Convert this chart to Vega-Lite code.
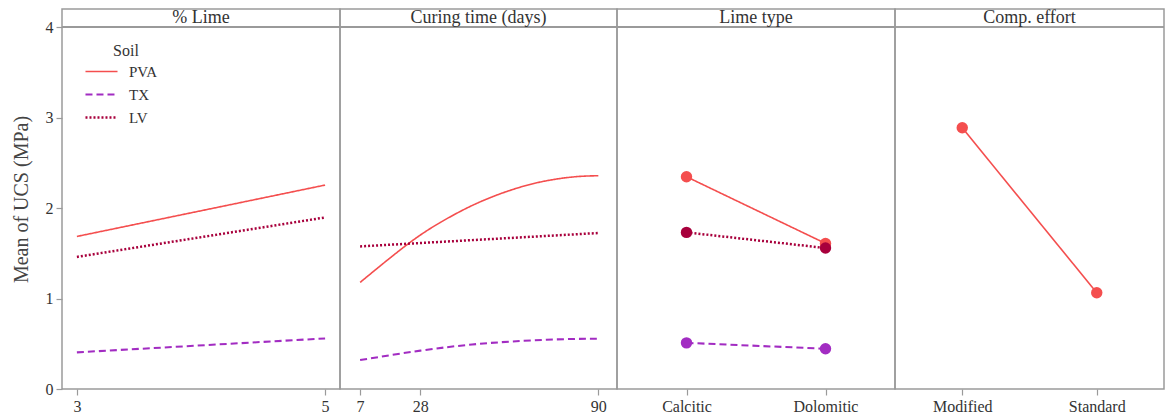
{
  "$schema": "https://vega.github.io/schema/vega-lite/v6.json",
  "padding": {"left": 10, "top": 8, "right": 0, "bottom": 0},
  "spacing": 0,
  "bounds": "flush",
  "datasets": {
    "lime": [
      {"pct": 3, "soil": "PVA", "ucs": 1.686},
      {"pct": 5, "soil": "PVA", "ucs": 2.254},
      {"pct": 3, "soil": "TX", "ucs": 0.405},
      {"pct": 5, "soil": "TX", "ucs": 0.559},
      {"pct": 3, "soil": "LV", "ucs": 1.46},
      {"pct": 5, "soil": "LV", "ucs": 1.896}
    ],
    "curing": [
      {"days": 7, "soil": "PVA", "ucs": 1.178},
      {"days": 23.3, "soil": "PVA", "ucs": 1.594},
      {"days": 34.9, "soil": "PVA", "ucs": 1.84},
      {"days": 46.5, "soil": "PVA", "ucs": 2.035},
      {"days": 58.1, "soil": "PVA", "ucs": 2.183},
      {"days": 69.7, "soil": "PVA", "ucs": 2.287},
      {"days": 81.3, "soil": "PVA", "ucs": 2.344},
      {"days": 90, "soil": "PVA", "ucs": 2.357},
      {"days": 7, "soil": "TX", "ucs": 0.32},
      {"days": 28, "soil": "TX", "ucs": 0.424},
      {"days": 46, "soil": "TX", "ucs": 0.492},
      {"days": 60, "soil": "TX", "ucs": 0.525},
      {"days": 75, "soil": "TX", "ucs": 0.548},
      {"days": 90, "soil": "TX", "ucs": 0.556},
      {"days": 7, "soil": "LV", "ucs": 1.576},
      {"days": 90, "soil": "LV", "ucs": 1.724}
    ],
    "limetype": [
      {"type": "Calcitic", "soil": "PVA", "ucs": 2.346},
      {"type": "Dolomitic", "soil": "PVA", "ucs": 1.609},
      {"type": "Calcitic", "soil": "TX", "ucs": 0.51},
      {"type": "Dolomitic", "soil": "TX", "ucs": 0.445},
      {"type": "Calcitic", "soil": "LV", "ucs": 1.731},
      {"type": "Dolomitic", "soil": "LV", "ucs": 1.558}
    ],
    "effort": [
      {"effort": "Modified", "soil": "PVA", "ucs": 2.887},
      {"effort": "Standard", "soil": "PVA", "ucs": 1.064}
    ]
  },
  "hconcat": [
    {
      "width": 278,
      "height": 380,
      "data": {"name": "lime"},
      "layer": [
        {
          "mark": {"type": "rule", "color": "#9a9a9a", "strokeWidth": 1.5},
          "encoding": {
            "y": {"datum": 4, "type": "quantitative", "scale": {"domain": [0, 4.2], "nice": false}, "axis": {"values": [0, 1, 2, 3, 4], "title": "Mean of UCS (MPa)", "domain": false}}
          }
        },
        {
          "data": {"values": [{"header": "% Lime"}]},
          "mark": {"type": "text", "baseline": "middle", "align": "center", "fontSize": 18, "color": "#333"},
          "encoding": {
            "y": {"datum": 4.1, "type": "quantitative", "scale": {"domain": [0, 4.2], "nice": false}, "axis": {"values": [0, 1, 2, 3, 4], "title": "Mean of UCS (MPa)", "domain": false}},
            "text": {"field": "header"}
          }
        },
        {
          "mark": {"type": "line"},
          "encoding": {
            "x": {"field": "pct", "type": "quantitative", "scale": {"domain": [2.88, 5.12], "nice": false, "zero": false}, "axis": {"values": [3, 5], "format": "d", "title": null, "domain": false}},
            "y": {"field": "ucs", "type": "quantitative", "scale": {"domain": [0, 4.2], "nice": false}, "axis": {"values": [0, 1, 2, 3, 4], "title": "Mean of UCS (MPa)", "domain": false}},
            "color": {"field": "soil", "type": "nominal", "scale": {"domain": ["PVA", "TX", "LV"], "range": ["#f44e4e", "#a22cc2", "#a8003c"]}, "title": "Soil", "legend": {"orient": "none", "legendX": 32, "legendY": 34}},
            "strokeDash": {"field": "soil", "type": "nominal", "scale": {"domain": ["PVA", "TX", "LV"], "range": [[1, 0], [7, 4], [2, 2]]}, "title": "Soil", "legend": {"orient": "none", "legendX": 32, "legendY": 34}},
            "strokeWidth": {"field": "soil", "type": "nominal", "scale": {"domain": ["PVA", "TX", "LV"], "range": [1.6, 2.5, 2.5]}, "legend": null}
          }
        }
      ]
    },
    {
      "width": 277,
      "height": 380,
      "data": {"name": "curing"},
      "layer": [
        {
          "mark": {"type": "rule", "color": "#9a9a9a", "strokeWidth": 1.5},
          "encoding": {
            "y": {"datum": 4, "type": "quantitative", "scale": {"domain": [0, 4.2], "nice": false}, "axis": null}
          }
        },
        {
          "data": {"values": [{"header": "Curing time (days)"}]},
          "mark": {"type": "text", "baseline": "middle", "align": "center", "fontSize": 18, "color": "#333"},
          "encoding": {
            "y": {"datum": 4.1, "type": "quantitative", "scale": {"domain": [0, 4.2], "nice": false}, "axis": null},
            "text": {"field": "header"}
          }
        },
        {
          "mark": {"type": "line", "interpolate": "natural"},
          "encoding": {
            "x": {"field": "days", "type": "quantitative", "scale": {"domain": [0, 96.5], "nice": false, "zero": false}, "axis": {"values": [7, 28, 90], "format": "d", "title": null, "domain": false}},
            "y": {"field": "ucs", "type": "quantitative", "scale": {"domain": [0, 4.2], "nice": false}, "axis": null},
            "color": {"field": "soil", "type": "nominal", "scale": {"domain": ["PVA", "TX", "LV"], "range": ["#f44e4e", "#a22cc2", "#a8003c"]}, "legend": null},
            "strokeDash": {"field": "soil", "type": "nominal", "scale": {"domain": ["PVA", "TX", "LV"], "range": [[1, 0], [7, 4], [2, 2]]}, "legend": null},
            "strokeWidth": {"field": "soil", "type": "nominal", "scale": {"domain": ["PVA", "TX", "LV"], "range": [1.6, 2.5, 2.5]}, "legend": null}
          }
        }
      ]
    },
    {
      "width": 278,
      "height": 380,
      "data": {"name": "limetype"},
      "layer": [
        {
          "mark": {"type": "rule", "color": "#9a9a9a", "strokeWidth": 1.5},
          "encoding": {
            "y": {"datum": 4, "type": "quantitative", "scale": {"domain": [0, 4.2], "nice": false}, "axis": null}
          }
        },
        {
          "data": {"values": [{"header": "Lime type"}]},
          "mark": {"type": "text", "baseline": "middle", "align": "center", "fontSize": 18, "color": "#333"},
          "encoding": {
            "y": {"datum": 4.1, "type": "quantitative", "scale": {"domain": [0, 4.2], "nice": false}, "axis": null},
            "text": {"field": "header"}
          }
        },
        {
          "mark": {"type": "line"},
          "encoding": {
            "x": {"field": "type", "type": "nominal", "sort": ["Calcitic", "Dolomitic"], "scale": {"type": "point", "padding": 0.5}, "axis": {"title": null, "labelAngle": 0, "domain": false}},
            "y": {"field": "ucs", "type": "quantitative", "scale": {"domain": [0, 4.2], "nice": false}, "axis": null},
            "color": {"field": "soil", "type": "nominal", "scale": {"domain": ["PVA", "TX", "LV"], "range": ["#f44e4e", "#a22cc2", "#a8003c"]}, "legend": null},
            "strokeDash": {"field": "soil", "type": "nominal", "scale": {"domain": ["PVA", "TX", "LV"], "range": [[1, 0], [7, 4], [2, 2]]}, "legend": null},
            "strokeWidth": {"field": "soil", "type": "nominal", "scale": {"domain": ["PVA", "TX", "LV"], "range": [1.6, 2.5, 2.5]}, "legend": null}
          }
        },
        {
          "mark": {"type": "point", "filled": true, "opacity": 1, "size": 130},
          "encoding": {
            "x": {"field": "type", "type": "nominal", "sort": ["Calcitic", "Dolomitic"], "scale": {"type": "point", "padding": 0.5}, "axis": {"title": null, "labelAngle": 0, "domain": false}},
            "y": {"field": "ucs", "type": "quantitative", "scale": {"domain": [0, 4.2], "nice": false}, "axis": null},
            "color": {"field": "soil", "type": "nominal", "scale": {"domain": ["PVA", "TX", "LV"], "range": ["#f44e4e", "#a22cc2", "#a8003c"]}, "legend": null}
          }
        }
      ]
    },
    {
      "width": 269,
      "height": 380,
      "data": {"name": "effort"},
      "layer": [
        {
          "mark": {"type": "rule", "color": "#9a9a9a", "strokeWidth": 1.5},
          "encoding": {
            "y": {"datum": 4, "type": "quantitative", "scale": {"domain": [0, 4.2], "nice": false}, "axis": null}
          }
        },
        {
          "data": {"values": [{"header": "Comp. effort"}]},
          "mark": {"type": "text", "baseline": "middle", "align": "center", "fontSize": 18, "color": "#333"},
          "encoding": {
            "y": {"datum": 4.1, "type": "quantitative", "scale": {"domain": [0, 4.2], "nice": false}, "axis": null},
            "text": {"field": "header"}
          }
        },
        {
          "mark": {"type": "line", "strokeWidth": 1.6},
          "encoding": {
            "x": {"field": "effort", "type": "nominal", "sort": ["Modified", "Standard"], "scale": {"type": "point", "padding": 0.5}, "axis": {"title": null, "labelAngle": 0, "domain": false}},
            "y": {"field": "ucs", "type": "quantitative", "scale": {"domain": [0, 4.2], "nice": false}, "axis": null},
            "color": {"field": "soil", "type": "nominal", "scale": {"domain": ["PVA", "TX", "LV"], "range": ["#f44e4e", "#a22cc2", "#a8003c"]}, "legend": null}
          }
        },
        {
          "mark": {"type": "point", "filled": true, "opacity": 1, "size": 130},
          "encoding": {
            "x": {"field": "effort", "type": "nominal", "sort": ["Modified", "Standard"], "scale": {"type": "point", "padding": 0.5}, "axis": {"title": null, "labelAngle": 0, "domain": false}},
            "y": {"field": "ucs", "type": "quantitative", "scale": {"domain": [0, 4.2], "nice": false}, "axis": null},
            "color": {"field": "soil", "type": "nominal", "scale": {"domain": ["PVA", "TX", "LV"], "range": ["#f44e4e", "#a22cc2", "#a8003c"]}, "legend": null}
          }
        }
      ]
    }
  ],
  "config": {
    "font": "Liberation Serif",
    "view": {"stroke": "#9a9a9a", "strokeWidth": 1.5},
    "axis": {
      "grid": false,
      "labelFont": "Liberation Serif",
      "labelFontSize": 16,
      "labelColor": "#333",
      "tickColor": "#9a9a9a",
      "tickSize": 6,
      "tickWidth": 1.2,
      "labelPadding": 3,
      "titleFont": "Liberation Serif",
      "titleFontSize": 20,
      "titleFontWeight": "normal",
      "titleColor": "#444",
      "titlePadding": 14
    },
    "legend": {
      "titleFont": "Liberation Serif",
      "titleFontSize": 16,
      "titleFontWeight": "normal",
      "titleColor": "#333",
      "titleAnchor": "middle",
      "titlePadding": 5,
      "labelFont": "Liberation Serif",
      "labelFontSize": 15,
      "labelColor": "#333",
      "labelOffset": 20,
      "symbolType": "M-3,0H3",
      "symbolSize": 114,
      "symbolStrokeWidth": 2,
      "rowPadding": 7,
      "padding": 0
    }
  }
}
